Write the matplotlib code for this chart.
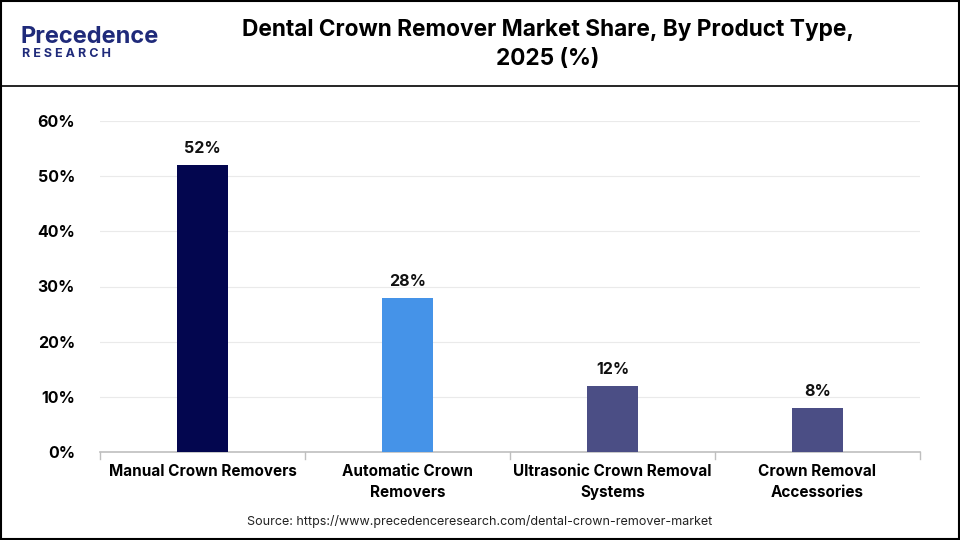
import matplotlib.pyplot as plt
from matplotlib.lines import Line2D

categories = ["Manual Crown Removers", "Automatic Crown\nRemovers",
              "Ultrasonic Crown Removal\nSystems", "Crown Removal\nAccessories"]
shares = [52, 28, 12, 8]
bar_colors = ["#03064F", "#4593E8", "#4B4E85", "#4B4E85"]
yticks = [0, 10, 20, 30, 40, 50, 60]

plt.rcParams['font.family'] = ['Inter', 'DejaVu Sans']

fig = plt.figure(figsize=(9.6, 5.4), dpi=100)
W, H = 960, 540
ax = fig.add_axes([100 / W, 1 - 452 / H, 820 / W, 331 / H])

x = range(len(categories))
ax.bar(x, shares, width=0.245, color=bar_colors, zorder=3)
for xi, v in zip(x, shares):
    ax.text(xi, v + 1.6, f"{v}%", ha='center', va='bottom', fontsize=11.5,
            fontweight='bold', color='#111111')

ax.set_xlim(-0.5, 3.5)
ax.set_ylim(0, 60)
ax.set_yticks(yticks)
ax.set_yticklabels([f"{t}%" for t in yticks], fontsize=11.5, fontweight='bold')
ax.set_xticks(list(x))
ax.set_xticklabels(categories, fontsize=11, fontweight='bold', linespacing=1.45)
ax.tick_params(axis='y', length=0, pad=18)
ax.tick_params(axis='x', length=0, pad=9)
for t in [-0.5, 0.5, 1.5, 2.5, 3.5]:
    ax.plot([t, t], [0, -1.3], color='#BFBFBF', lw=1, clip_on=False)
ax.grid(axis='y', color='#EAEAEA', lw=0.8, zorder=0)
for s in ['top', 'right', 'left']:
    ax.spines[s].set_visible(False)
ax.spines['bottom'].set_color('#BFBFBF')
ax.spines['bottom'].set_linewidth(1.2)

# header
fig.text(548 / W, 1 - 30 / H, "Dental Crown Remover Market Share, By Product Type,",
         ha='center', va='center', fontsize=16.3, fontweight='bold')
fig.text(548 / W, 1 - 59 / H, "2025 (%)", ha='center', va='center',
         fontsize=16.3, fontweight='bold')
fig.text(20 / W, 1 - 37 / H, "Precedence", ha='left', va='center', fontsize=17,
         color='#1F2A7A', fontweight='bold')
fig.text(22 / W, 1 - 54 / H, "R E S E A R C H", ha='left', va='center', fontsize=9,
         color='#1F2A7A', fontweight='bold')

fig.text(480 / W, 1 - 521 / H,
         "Source: https://www.precedenceresearch.com/dental-crown-remover-market",
         ha='center', va='center', fontsize=9, color='#222222')

fig.add_artist(Line2D([0, 1], [1 - 86 / H, 1 - 86 / H], color='black', lw=1.2))
fig.add_artist(plt.Rectangle((0.001, 0.002), 0.998, 0.996, fill=False,
                             edgecolor='black', lw=1.5, transform=fig.transFigure))

fig.savefig("out.png", dpi=100)
